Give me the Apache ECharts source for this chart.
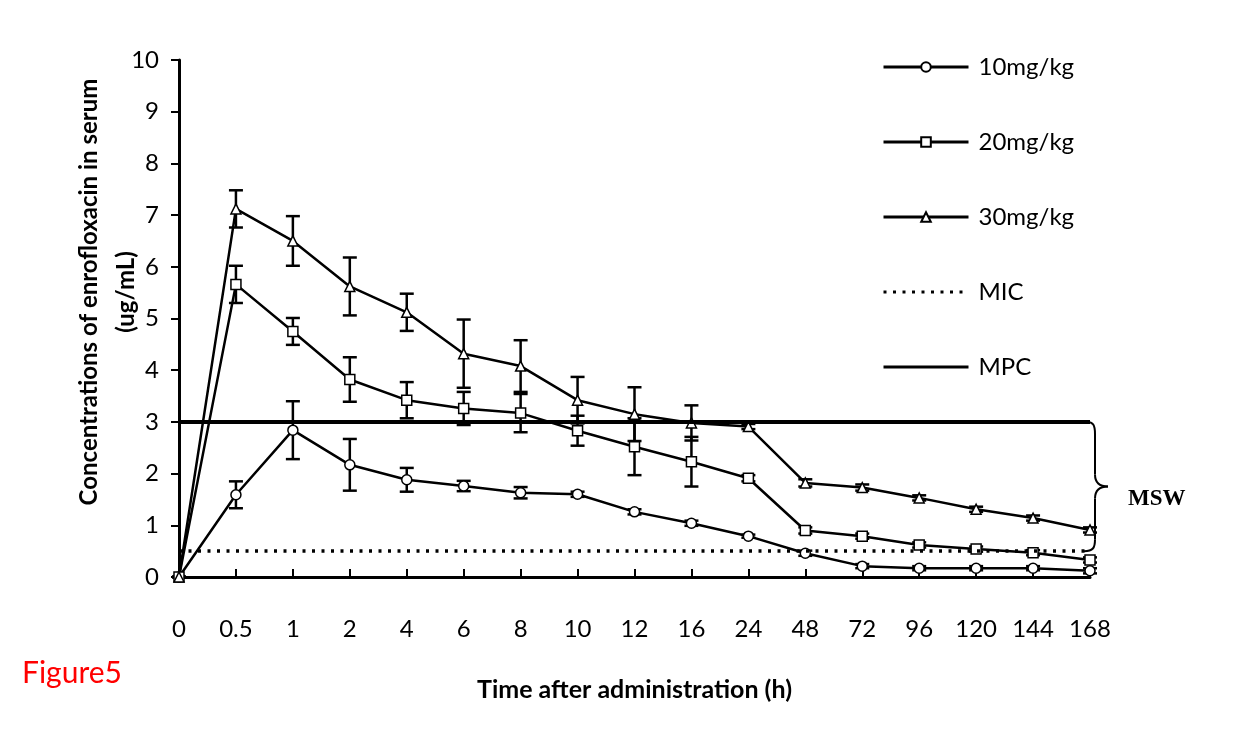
<!DOCTYPE html>
<html>
<head>
<meta charset="utf-8">
<title>Figure5</title>
<script src="https://cdn.jsdelivr.net/npm/echarts@6/dist/echarts.min.js"></script>
<style>
  html, body { margin: 0; padding: 0; background: #fff; }
  #chart { width: 1249px; height: 741px; }
</style>
</head>
<body>
<div id="chart"></div>
<script>
// sampling times (h)
var times = ['0', '0.5', '1', '2', '4', '6', '8', '10', '12', '16', '24', '48', '72', '96', '120', '144', '168'];

// mean serum concentrations (ug/mL) and their error bars
var dose10 = [0, 1.59, 2.84, 2.17, 1.88, 1.76, 1.63, 1.60, 1.26, 1.04, 0.79, 0.46, 0.21, 0.17, 0.17, 0.17, 0.12];
var sd10   = [0, 0.26, 0.56, 0.50, 0.23, 0.10, 0.11, 0.05, 0.05, 0.05, 0.03, 0.05, 0.04, 0.04, 0.04, 0.04, 0.05];
var dose20 = [0, 5.66, 4.75, 3.82, 3.42, 3.26, 3.17, 2.83, 2.52, 2.23, 1.91, 0.90, 0.79, 0.62, 0.54, 0.47, 0.33];
var sd20   = [0, 0.36, 0.26, 0.43, 0.35, 0.32, 0.37, 0.29, 0.55, 0.48, 0.06, 0.06, 0.05, 0.05, 0.05, 0.05, 0.05];
var dose30 = [0, 7.12, 6.50, 5.62, 5.12, 4.32, 4.08, 3.42, 3.15, 2.98, 2.91, 1.82, 1.73, 1.53, 1.31, 1.14, 0.91];
var sd30   = [0, 0.36, 0.48, 0.56, 0.36, 0.66, 0.50, 0.45, 0.52, 0.34, 0.05, 0.07, 0.06, 0.05, 0.05, 0.05, 0.05];

// reference levels
var MIC = 0.5;
var MPC = 3;

var yTicks = [0, 10, 1]; // min, max, interval

var FONT = 'Lato';
var HIDDEN = 'rgba(0,0,0,0)';

function errData(mean, sd) {
  var out = [];
  for (var i = 0; i < mean.length; i++) {
    out.push([i, mean[i] - sd[i], mean[i] + sd[i]]);
  }
  return out;
}

function renderErr(params, api) {
  var lo = api.coord([api.value(0), api.value(1)]);
  var hi = api.coord([api.value(0), api.value(2)]);
  var w = 7;
  var st = { stroke: '#000', lineWidth: 2.5 };
  return {
    type: 'group',
    children: [
      { type: 'line', shape: { x1: lo[0], y1: lo[1], x2: hi[0], y2: hi[1] }, style: st },
      { type: 'line', shape: { x1: hi[0] - w, y1: hi[1], x2: hi[0] + w, y2: hi[1] }, style: st },
      { type: 'line', shape: { x1: lo[0] - w, y1: lo[1], x2: lo[0] + w, y2: lo[1] }, style: st }
    ]
  };
}

function doseSeries(name, data, symbol) {
  return {
    name: name,
    type: 'line',
    data: data,
    symbol: symbol,
    symbolSize: 10,
    z: 3,
    lineStyle: { color: '#000', width: 2.5 },
    itemStyle: { color: '#fff', borderColor: '#000', borderWidth: 1.5 }
  };
}

function errSeries(mean, sd) {
  return {
    type: 'custom',
    renderItem: renderErr,
    data: errData(mean, sd),
    z: 2,
    silent: true
  };
}

function refSeries(name, value, width, dash) {
  return {
    name: name,
    type: 'line',
    data: [],
    symbol: 'none',
    lineStyle: { color: '#000', width: 3, type: dash },
    itemStyle: { color: HIDDEN, borderColor: HIDDEN },
    markLine: {
      silent: true,
      symbol: 'none',
      label: { show: false },
      lineStyle: { color: '#000', width: width, type: dash },
      data: [{ yAxis: value }]
    }
  };
}

var chart = echarts.init(document.getElementById('chart'));

var option = {
  animation: false,
  backgroundColor: '#fff',
  grid: { left: 179, right: 159, top: 60, bottom: 164 },
  legend: {
    orient: 'vertical',
    left: 882,
    top: 55,
    padding: 0,
    itemWidth: 85,
    itemHeight: 12,
    itemGap: 51,
    lineStyle: { width: 3 },
    data: ['10mg/kg', '20mg/kg', '30mg/kg', 'MIC', 'MPC'],
    textStyle: { fontFamily: FONT, fontSize: 24, color: '#000', lineHeight: 24, padding: [0, 0, 0, 5] }
  },
  xAxis: {
    type: 'category',
    data: times,
    boundaryGap: false,
    name: 'Time after administration (h)',
    nameLocation: 'middle',
    nameGap: 100,
    nameTextStyle: { fontFamily: FONT, fontSize: 25, fontWeight: 'bold', color: '#000' },
    axisLine: { lineStyle: { color: '#000', width: 3 } },
    axisTick: { inside: true, length: 8, alignWithLabel: true, lineStyle: { color: '#000', width: 2 } },
    axisLabel: { interval: 0, margin: 40, fontFamily: FONT, fontSize: 24, color: '#000' },
    splitLine: { show: false }
  },
  yAxis: {
    type: 'value',
    min: yTicks[0],
    max: yTicks[1],
    interval: yTicks[2],
    axisLine: { show: true, lineStyle: { color: '#000', width: 3 } },
    axisTick: { show: true, length: 8, lineStyle: { color: '#000', width: 2 } },
    axisLabel: { margin: 20, fontFamily: FONT, fontSize: 24, color: '#000' },
    splitLine: { show: false }
  },
  series: [
    errSeries(dose10, sd10),
    errSeries(dose20, sd20),
    errSeries(dose30, sd30),
    doseSeries('10mg/kg', dose10, 'circle'),
    doseSeries('20mg/kg', dose20, 'rect'),
    doseSeries('30mg/kg', dose30, 'triangle'),
    refSeries('MIC', MIC, 3.5, [3, 6.5]),
    refSeries('MPC', MPC, 4, 'solid')
  ]
};

chart.setOption(option);

// brace between MIC and MPC, plus titles
var xEnd = chart.convertToPixel({ xAxisIndex: 0 }, times[times.length - 1]);
var yTop = chart.convertToPixel({ yAxisIndex: 0 }, MPC);
var yBot = chart.convertToPixel({ yAxisIndex: 0 }, MIC);
var yMid = (yTop + yBot) / 2;
var x0 = xEnd - 3;
var bx = x0 + 8;
var braceStyle = { fill: null, stroke: '#000', lineWidth: 2 };

function curve(x1, y1, cx1, cy1, cx2, cy2, x2, y2) {
  return {
    type: 'bezierCurve',
    shape: { x1: x1, y1: y1, cpx1: cx1, cpy1: cy1, cpx2: cx2, cpy2: cy2, x2: x2, y2: y2 },
    style: braceStyle
  };
}

function seg(x1, y1, x2, y2) {
  return { type: 'line', shape: { x1: x1, y1: y1, x2: x2, y2: y2 }, style: braceStyle };
}

chart.setOption({
  graphic: [
    {
      type: 'group',
      z: 10,
      children: [
        curve(x0, yTop, x0 + 6, yTop, bx, yTop + 3, bx, yTop + 12),
        seg(bx, yTop + 12, bx, yMid - 12),
        curve(bx, yMid - 12, bx, yMid - 4, bx + 5, yMid, bx + 13, yMid),
        curve(bx + 13, yMid, bx + 5, yMid, bx, yMid + 4, bx, yMid + 12),
        seg(bx, yMid + 12, bx, yBot - 12),
        curve(bx, yBot - 12, bx, yBot - 3, x0 + 6, yBot, x0 - 3, yBot)
      ]
    },
    {
      type: 'text',
      left: bx + 33,
      top: yMid + 1,
      style: { text: 'MSW', fontFamily: 'Liberation Serif', fontWeight: 'bold', fontSize: 23, fill: '#000' }
    },
    {
      type: 'text',
      x: 108,
      y: 292,
      rotation: Math.PI / 2,
      style: {
        text: 'Concentrations of enrofloxacin in serum\n(ug/mL)',
        fontFamily: FONT,
        fontWeight: 'bold',
        fontSize: 24,
        lineHeight: 37,
        align: 'center',
        verticalAlign: 'middle',
        fill: '#000'
      }
    },
    {
      type: 'text',
      left: 22,
      top: 658,
      style: { text: 'Figure5', fontFamily: FONT, fontSize: 30, fill: '#ff0000' }
    }
  ]
});
</script>
</body>
</html>
